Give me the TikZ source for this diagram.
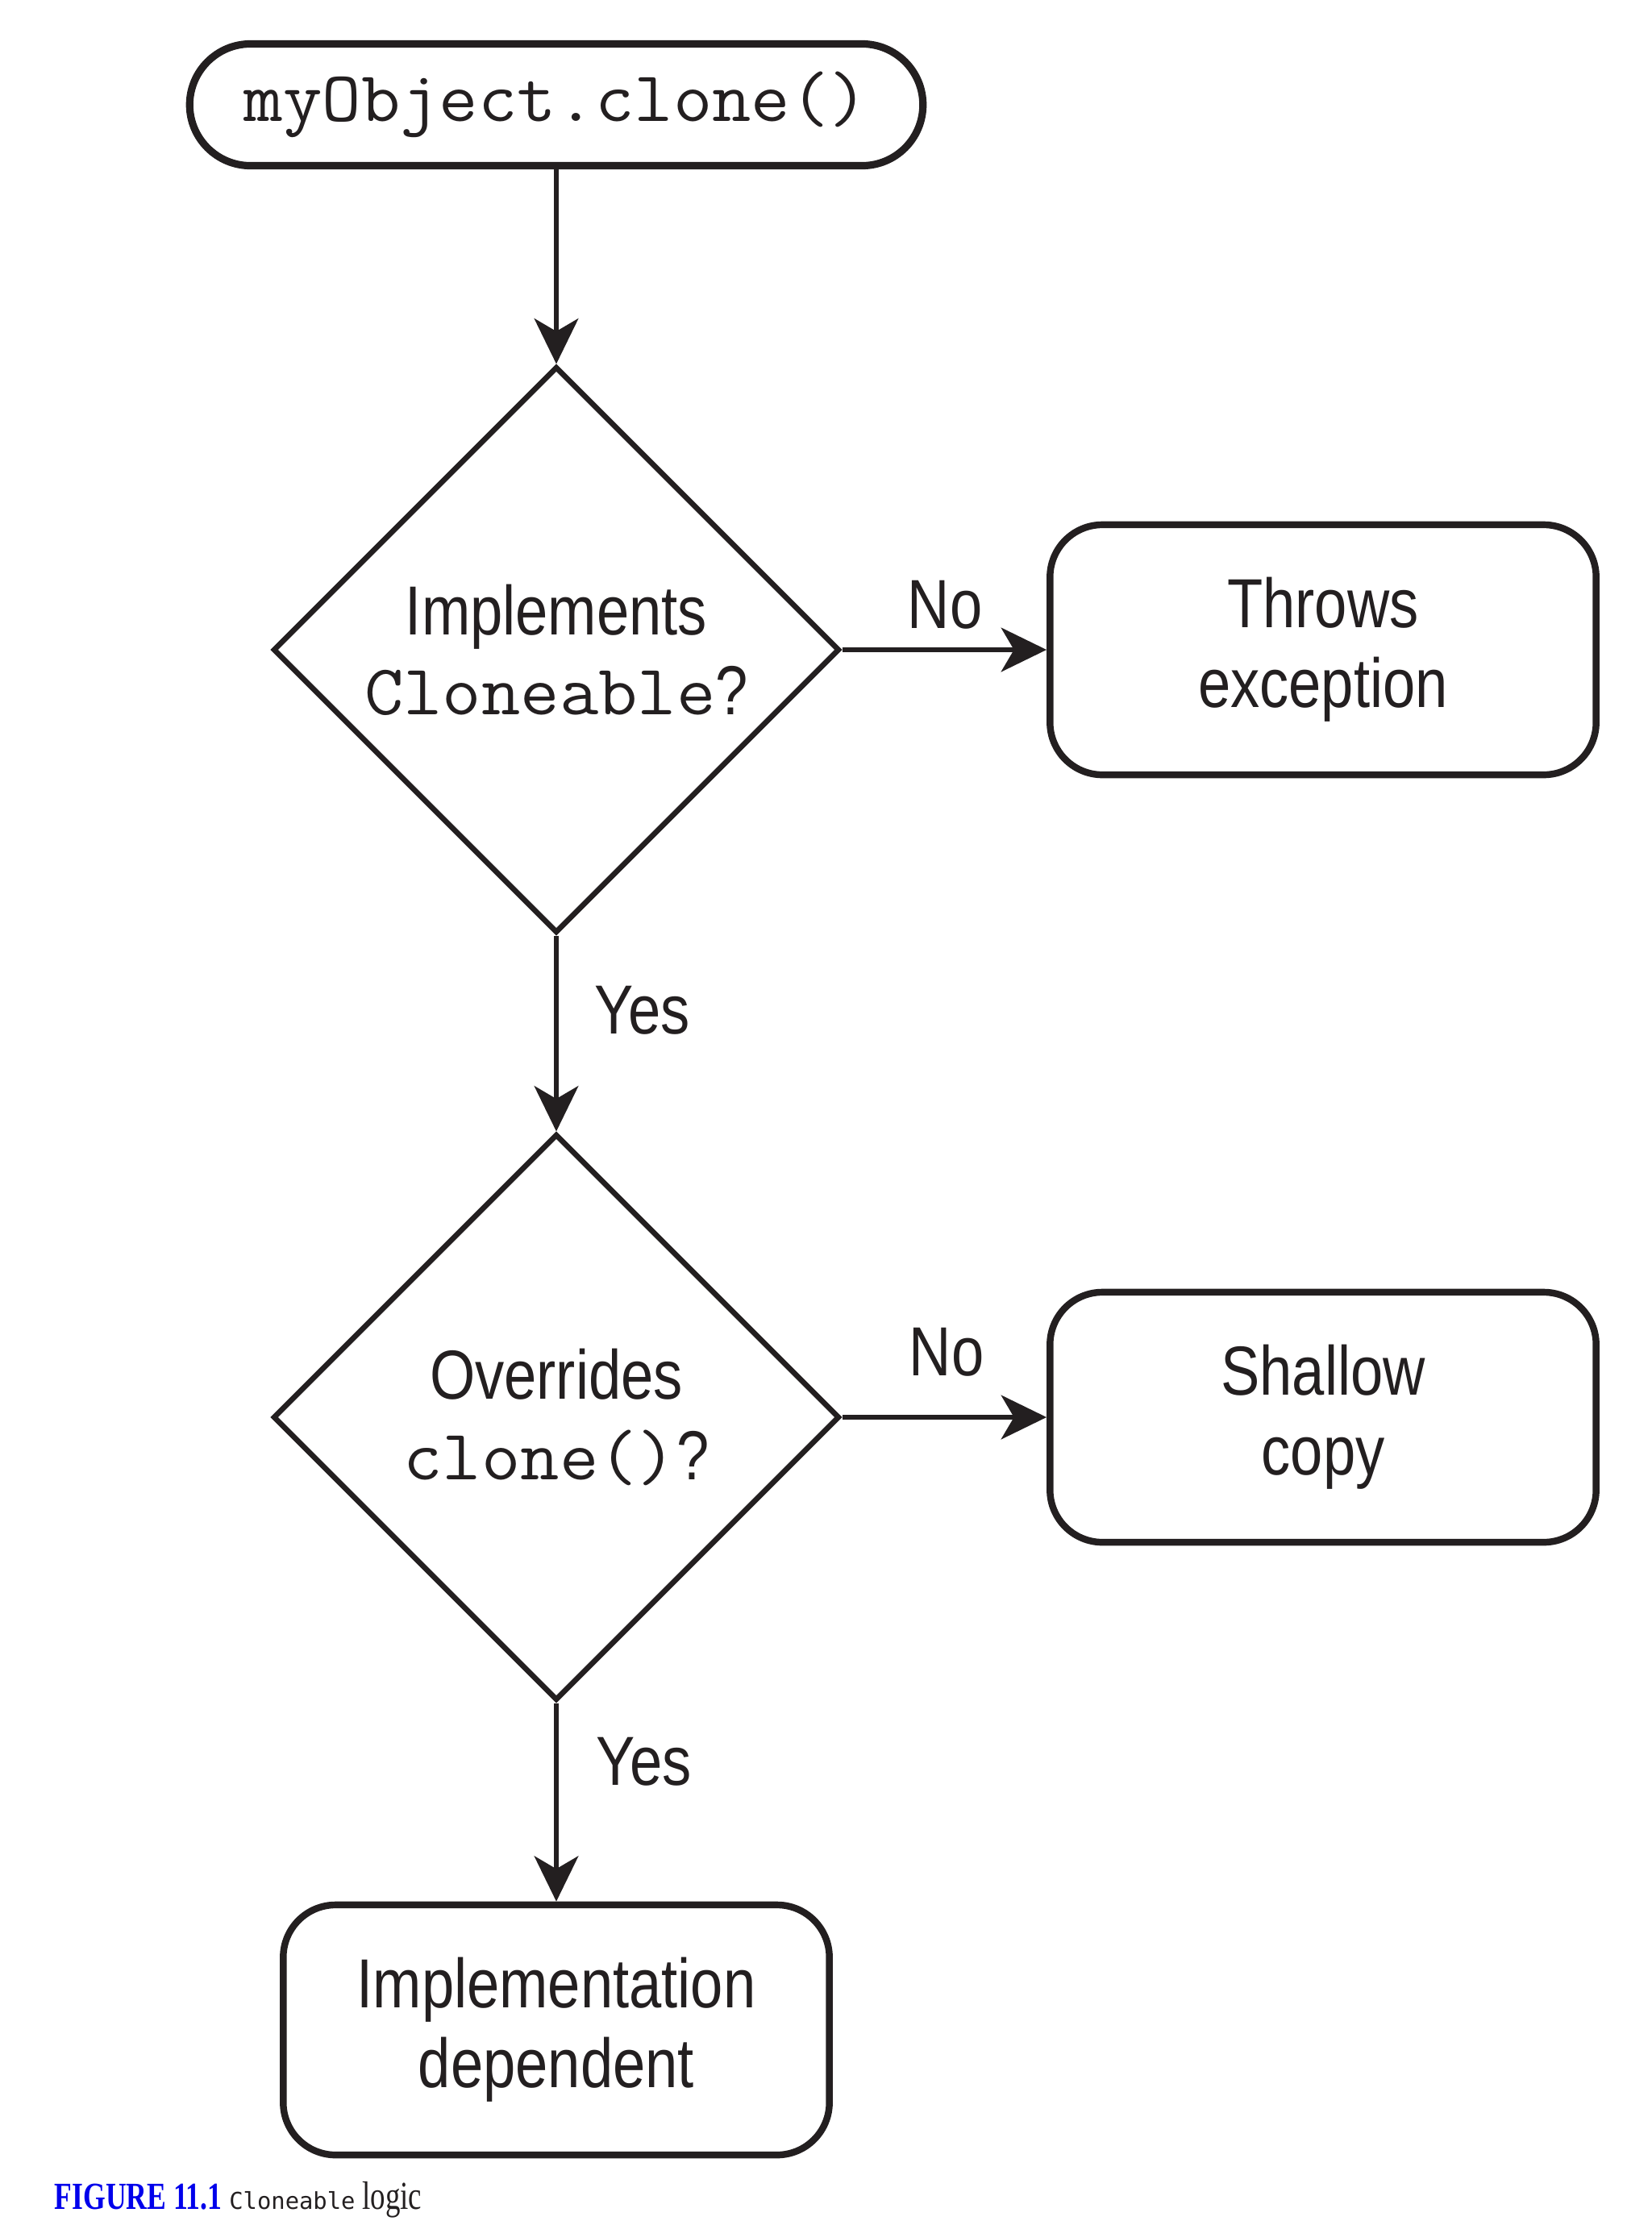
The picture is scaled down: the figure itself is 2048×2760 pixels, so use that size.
\documentclass[tikz,border=0pt]{standalone}
\usepackage{fontspec}
\usetikzlibrary{shapes.geometric,arrows.meta}
\newfontfamily\lblfont{Liberation Sans}[FakeStretch=0.84]
\newfontfamily\codefont{Latin Modern Mono}[FakeStretch=1.06]
\newfontfamily\capserif{Liberation Serif}[FakeStretch=0.75]
\newfontfamily\capmono{DejaVu Sans Mono}
\definecolor{ink}{RGB}{35,31,32}
\definecolor{capblue}{RGB}{0,0,235}
\newcommand\mycode[1]{{\codefont\fontsize{25.2pt}{28.2pt}\selectfont #1}}
\begin{document}
\begin{tikzpicture}[x=0.01cm,y=-0.01cm,
  every node/.style={text=ink},
  lbl/.style={font=\lblfont\fontsize{24.5pt}{28.2pt}\selectfont},
  term/.style={draw=ink, line width=2.6pt, rounded corners=0.755cm,
    minimum width=9.09cm, minimum height=1.51cm, inner sep=0pt,
    font=\codefont\fontsize{25.2pt}{28.2pt}\selectfont},
  decision/.style={draw=ink, line width=1.9pt, diamond, aspect=1,
    minimum width=7.02cm, minimum height=7.02cm, inner sep=0pt,
    align=center, lbl},
  result/.style={draw=ink, line width=2.4pt, rounded corners=0.65cm,
    minimum width=6.77cm, minimum height=3.10cm, inner sep=0pt,
    align=center, lbl},
  arr/.style={draw=ink, line width=1.9pt,
    -{Stealth[length=16pt,width=15.5pt,inset=4.5pt]}},
  branch/.style={lbl, inner sep=0pt}
]
\useasboundingbox (0,0) rectangle (2048,2760);

\node[term] (start) at (690,130) {myObject.clone()};
\node[decision] (d1) at (690,806) {Implements\\\mycode{Cloneable}?};
\node[result] (throw) at (1641,806) {Throws\\exception};
\node[decision] (d2) at (690,1758) {Overrides\\\mycode{clone()}?};
\node[result] (shallow) at (1641,1758) {Shallow\\copy};
\node[result] (impl) at (690,2518) {Implementation\\dependent};

\node[branch] (no1) at (1172,750) {No};
\node[branch] (yes1) at (797,1253) {Yes};
\node[branch] (no2) at (1174,1677) {No};
\node[branch] (yes2) at (799,2185) {Yes};

\draw[arr] (start.south) -- (d1.north);
\draw[arr] (d1.east) -- (throw.west);
\draw[arr] (d1.south) -- (d2.north);
\draw[arr] (d2.east) -- (shallow.west);
\draw[arr] (d2.south) -- (impl.north);

\node[anchor=base west, inner sep=0pt] (cap) at (67,2740)
  {\capserif\fontsize{13.5pt}{16pt}\selectfont{\bfseries\color{capblue}FIGURE 11.1}
   {\capmono\fontsize{8.2pt}{10pt}\selectfont Cloneable}
   {\fontsize{14pt}{16pt}\selectfont logic}};
\end{tikzpicture}
\end{document}
